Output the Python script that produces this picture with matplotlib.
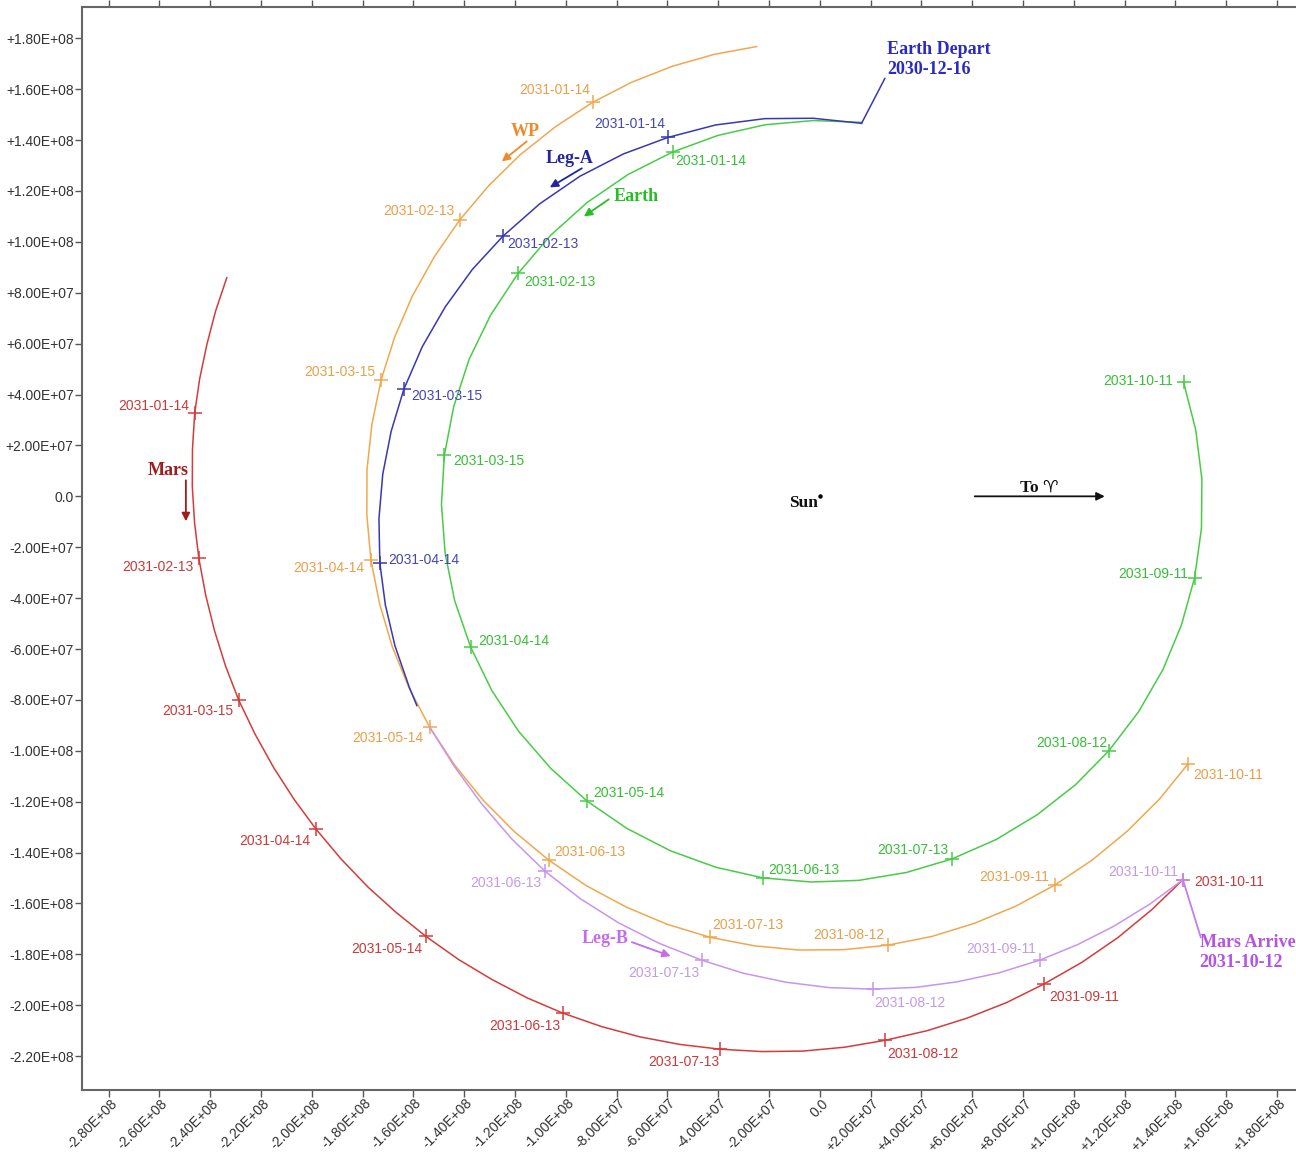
import numpy as np
import matplotlib
matplotlib.use('Agg')
import matplotlib.pyplot as plt
import matplotlib.transforms as mtransforms

# heliocentric positions as (longitude deg, distance in 1e6 km),
# every ~7.5 days from 2030-12-16; every 4th point is a monthly marker
M = 1e6

dates = ['2031-01-14', '2031-02-13', '2031-03-15', '2031-04-14', '2031-05-14',
         '2031-06-13', '2031-07-13', '2031-08-12', '2031-09-11', '2031-10-11']

earth_ang = [83.6, 91.0, 98.4, 105.8, 113.2, 120.8, 128.4, 136.0, 143.6, 151.2, 158.7, 166.3,
             173.8, 181.2, 188.6, 195.9, 203.3, 210.6, 217.9, 225.3, 232.6, 239.8, 247.1, 254.3,
             261.5, 268.7, 275.8, 283.0, 290.1, 297.3, 304.4, 311.6, 318.7, 326.0, 333.3, 340.5,
             347.8, 355.2, 362.6, 370.0, 377.4]
earth_r = [147.9, 147.7, 147.6, 147.4, 147.2, 147.3, 147.4, 147.5, 147.6, 147.9, 148.2, 148.4,
           148.7, 149.0, 149.2, 149.5, 149.7, 150.0, 150.3, 150.5, 150.8, 151.0, 151.2, 151.4,
           151.6, 151.6, 151.7, 151.7, 151.7, 151.7, 151.6, 151.6, 151.5, 151.4, 151.3, 151.1,
           151.0, 150.8, 150.6, 150.3, 150.1]

mars_ang = [159.8, 163.0, 166.1, 169.3, 172.4, 175.7, 179.1, 182.4, 185.7, 189.1, 192.5, 195.9,
            199.3, 202.8, 206.4, 209.9, 213.4, 217.1, 220.8, 224.4, 228.1, 232.0, 235.8, 239.7,
            243.5, 247.6, 251.6, 255.7, 259.7, 264.0, 268.3, 272.6, 276.9, 281.4, 285.8, 290.3,
            294.7, 299.4, 304.1, 308.8, 313.5]
mars_r = [248.8, 248.8, 248.6, 248.5, 248.3, 247.7, 247.1, 246.4, 245.7, 244.9, 244.1, 243.3,
          242.4, 241.2, 240.0, 238.8, 237.6, 236.3, 235.0, 233.6, 232.3, 231.0, 229.6, 228.3,
          226.9, 225.4, 223.9, 222.3, 220.8, 219.4, 218.1, 216.7, 215.3, 214.2, 213.1, 212.1,
          211.0, 210.2, 209.4, 208.5, 207.7]

wp_ang = [98.0, 103.5, 109.0, 114.5, 120.0, 125.6, 131.3, 136.9, 142.5, 148.2, 153.9, 159.5,
          165.2, 170.9, 176.6, 182.3, 188.0, 193.7, 199.3, 205.0, 210.6, 216.3, 222.0, 227.6,
          233.3, 239.0, 244.7, 250.3, 256.0, 261.7, 267.3, 273.0, 278.6, 284.3, 289.9, 295.6,
          301.2, 306.9, 312.6, 318.3, 324.0]
wp_r = [178.5, 178.6, 178.7, 178.8, 178.8, 178.7, 178.7, 178.6, 178.6, 178.6, 178.7, 178.7,
        178.7, 178.6, 178.6, 178.5, 178.5, 178.4, 178.4, 178.4, 178.4, 178.4, 178.4, 178.4,
        178.4, 178.5, 178.5, 178.6, 178.6, 178.5, 178.5, 178.4, 178.4, 178.5, 178.5, 178.6,
        178.6, 178.7, 178.8, 179.0, 179.1]

# Leg-A: Earth departure 2030-12-16 to WP (~2031-05-10)
lega_ang = [83.6, 91.0, 98.3, 105.7, 113.0, 119.9, 126.9, 133.8, 140.7, 146.9, 153.2, 159.4,
            165.6, 171.4, 177.1, 182.9, 188.6, 194.0, 199.4, 204.9, 207.4]
lega_r = [147.5, 148.6, 150.0, 151.6, 153.2, 155.2, 157.3, 159.3, 161.3, 163.3, 165.2, 167.2,
          169.1, 170.7, 172.3, 173.8, 175.2, 176.3, 177.3, 178.2, 178.7]

# Leg-B: from WP on 2031-05-14 to Mars arrival
legb_ang = [210.6, 216.4, 222.2, 227.9, 233.7, 239.2, 244.7, 250.2, 255.7, 260.8, 266.0, 271.1,
            276.2, 281.0, 285.8, 290.6, 295.4, 299.9, 304.4, 309.0, 313.5]
legb_r = [178.4, 178.8, 179.8, 181.2, 182.8, 184.1, 185.4, 186.7, 188.1, 189.8, 191.4, 193.1,
          194.8, 196.6, 198.3, 200.1, 201.8, 203.3, 204.8, 206.3, 207.7]

# label offsets in pixels (dx, dy) from each marker
wp_off = [(-38, 12), (-41, 9), (-41, 8), (-42, -8), (-42, -11), (41, 8), (38, 12), (-39, 10), (-41, 8), (40, -11)]
lega_off = [(-38, 13), (40, -8), (43, -7), (44, 3)]
earth_off = [(38, -9), (42, -9), (44, -6), (43, 6), (42, 8), (41, 8), (-39, 9), (-37, 8), (-41, 4), (-45, 1)]
legb_off = [(-39, -12), (-38, -13), (37, -14), (-38, 11), (-40, 8)]
mars_off = [(-41, 7), (-41, -9), (-41, -11), (-41, -12), (-39, -13), (-38, -13), (-36, -13), (37, -14), (40, -13), (46, -2)]

plt.rcParams['font.family'] = ['Liberation Sans', 'DejaVu Sans']

fig = plt.figure(figsize=(12.96, 11.54), dpi=100)
ax = fig.add_axes([82 / 1296, 64 / 1154, 1214 / 1296, 1083 / 1154])
ax.set_xlim(-290.5 * M, 187.5 * M)
ax.set_ylim(-233.3 * M, 192.3 * M)

serif = ['Liberation Serif', 'DejaVu Serif', 'DejaVu Sans']


def to_xy(ang, r):
    a = np.radians(ang)
    r = np.array(r) * M
    return r * np.cos(a), r * np.sin(a)


def body(ang, r, first, labels, offs, line_c, text_c, z):
    x, y = to_xy(ang, r)
    ax.plot(x, y, color=line_c, lw=1.1, zorder=z)
    mx, my = x[first::4], y[first::4]
    ax.plot(mx, my, ls='none', marker='+', ms=10, mew=1.1, color=line_c, zorder=z)
    for lab, px, py, (dx, dy) in zip(labels, mx, my, offs):
        ax.annotate(lab, (px, py), xytext=(dx, dy), textcoords='offset pixels',
                    ha='center', va='center', fontsize=10, color=text_c, zorder=z)
    return x, y


body(mars_ang, mars_r, 4, dates, mars_off, '#D43C3C', '#C83A3A', 2)
body(earth_ang, earth_r, 4, dates, earth_off, '#48CC48', '#38BE38', 3)
body(wp_ang, wp_r, 4, dates, wp_off, '#F0A84E', '#E8A04A', 4)
ax_, ay_ = body(lega_ang[:17], lega_r[:17], 4, dates[:4], lega_off, '#3838B4', '#4646B4', 5)
ax.plot(*to_xy(lega_ang[16:], lega_r[16:]), color='#3838B4', lw=1.1, zorder=5)
bx_, by_ = body(legb_ang, legb_r, 4, dates[5:], legb_off, '#C894EE', '#C49AE6', 6)

# leader lines to the event labels
ax.plot([ax_[0], 25.6 * M], [ay_[0], 164.2 * M], color='#3838B4', lw=1.1, zorder=5)
ax.plot([bx_[-1], 150.0 * M], [by_[-1], -173.3 * M], color='#C080EE', lw=1.3, zorder=6)


def name(txt, xy, tail, head, c):
    ax.text(xy[0] * M, xy[1] * M, txt, ha='center', va='center', fontsize=13,
            fontweight='bold', family=serif, color=c)
    ax.annotate('', xy=(head[0] * M, head[1] * M), xytext=(tail[0] * M, tail[1] * M),
                arrowprops=dict(arrowstyle='-|>', color=c, lw=1.3, mutation_scale=12,
                                shrinkA=0, shrinkB=0))


name('WP', (-116.1, 143.4), (-115.4, 139.5), (-125.2, 131.6), '#F08A28')
name('Leg-A', (-98.4, 132.8), (-93.7, 128.9), (-106.3, 121.4), '#2424A0')
name('Earth', (-72.4, 117.9), (-83.1, 116.7), (-92.9, 110.0), '#26BE26')
name('Mars', (-256.7, 10.2), (-249.6, 6.3), (-249.6, -9.8), '#A01C1C')
name('Leg-B', (-84.6, -173.7), (-74.0, -175.2), (-58.7, -180.7), '#C46CF0')

ax.text(26.4 * M, 171.7 * M, 'Earth Depart\n2030-12-16', ha='left', va='center', fontsize=13,
        fontweight='bold', family=serif, color='#2A2AC8', linespacing=1.25)
ax.text(149.6 * M, -179.2 * M, 'Mars Arrive\n2031-10-12', ha='left', va='center', fontsize=13,
        fontweight='bold', family=serif, color='#B454E4', linespacing=1.25)

ax.plot([0], [0], marker='o', ms=2.2, color='black', ls='none')
ax.text(-0.8 * M, -2.6 * M, 'Sun', ha='right', va='center', fontsize=12.5,
        fontweight='bold', family=serif, color='#111111')
ax.text(86.6 * M, 3.6 * M, 'To \u2648', ha='center', va='center', fontsize=12.5,
        fontweight='bold', family=serif, color='#111111')
ax.annotate('', xy=(112.2 * M, 0), xytext=(61.0 * M, 0),
            arrowprops=dict(arrowstyle='-|>', color='#111111', lw=1.3, mutation_scale=12,
                            shrinkA=0, shrinkB=0))

# axes, ticks
x_ticks = np.arange(-280, 181, 20) * M
y_ticks = np.arange(-220, 181, 20) * M


def fmt(v):
    return '0.0' if abs(v) < 1 else f'{v:+.2E}'


ax.set_xticks(x_ticks)
ax.set_xticklabels([fmt(v) for v in x_ticks], rotation=45, ha='right', va='center',
                   rotation_mode='anchor')
ax.set_yticks(y_ticks)
ax.set_yticklabels([fmt(v) for v in y_ticks])
ax.tick_params(axis='both', direction='out', length=5, width=1, color='#555555',
               labelcolor='#333333', labelsize=10)
ax.tick_params(axis='x', top=True, labeltop=False, pad=3)
ax.tick_params(axis='y', pad=1)
shift = mtransforms.ScaledTranslation(0.06, 0, fig.dpi_scale_trans)
for lab in ax.get_xticklabels():
    lab.set_transform(lab.get_transform() + shift)
for s in ['left', 'bottom', 'top']:
    ax.spines[s].set_color('#666666')
    ax.spines[s].set_linewidth(1.5)
ax.spines['right'].set_visible(False)

fig.savefig('out.png', dpi=100)
